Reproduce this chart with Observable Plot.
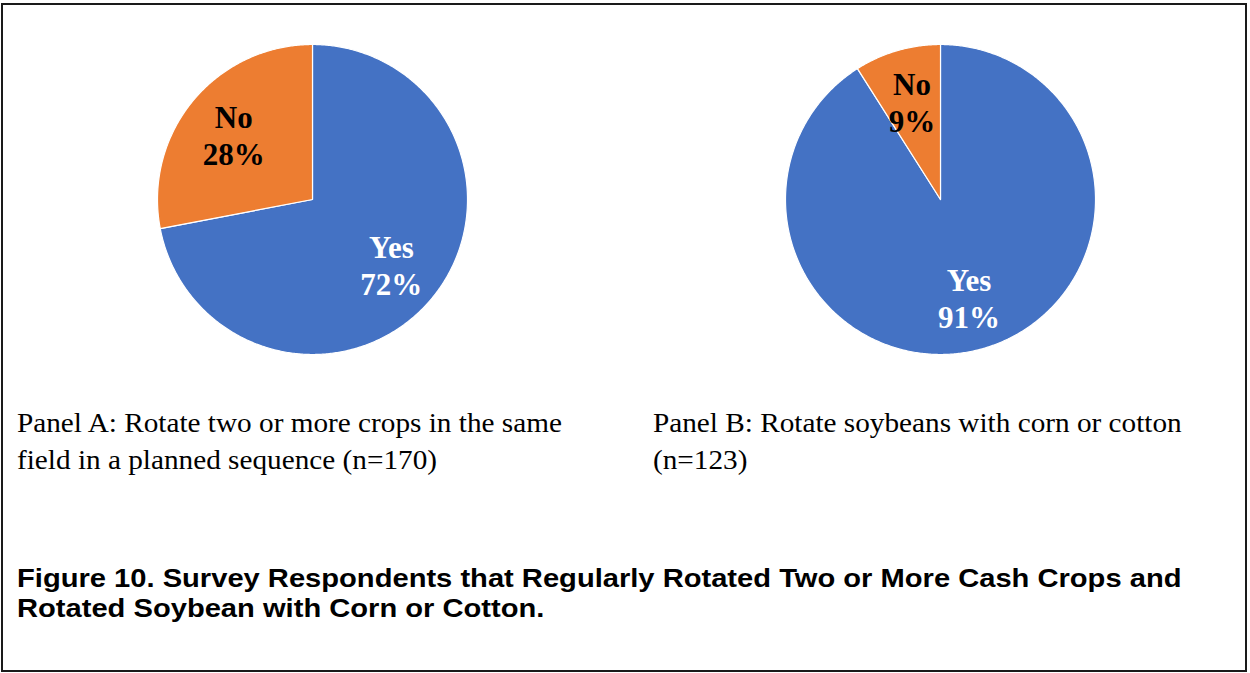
<!DOCTYPE html>
<html>
<head>
<meta charset="utf-8">
<script src="https://cdn.jsdelivr.net/npm/d3@7"></script>
<script src="https://cdn.jsdelivr.net/npm/@observablehq/plot@0.6"></script>
<style>
  html, body { margin: 0; padding: 0; background: #fff; }
  #frame { position: relative; width: 1250px; height: 673px; overflow: hidden; background: #fff; }
  #border { position: absolute; left: 1px; top: 3px; width: 1242px; height: 665px; border: 2px solid #1a1a1a; }
  .pie { position: absolute; }
  .panel { position: absolute; font-family: "Liberation Serif", "Times New Roman", serif; font-size: 27px; line-height: 37px; color: #000; white-space: nowrap; transform: scaleX(1.083); transform-origin: 0 0; }
  .fig { position: absolute; left: 17px; top: 564px; font-family: "Liberation Sans", Arial, sans-serif; font-weight: bold; font-size: 26px; line-height: 30px; color: #000; white-space: nowrap; transform: scaleX(1.12); transform-origin: 0 0; }
</style>
</head>
<body>
<div id="frame">
  <div id="border"></div>
</div>
<script>
// ---- data ----
const categories = ["Yes", "No"];
const panelAValues = [72, 28];
const panelBValues = [91, 9];
const panelACaption = ["Panel A: Rotate two or more crops in the same", "field in a planned sequence (n=170)"];
const panelBCaption = ["Panel B: Rotate soybeans with corn or cotton", "(n=123)"];
const figureCaption = ["Figure 10. Survey Respondents that Regularly Rotated Two or More Cash Crops and", "Rotated Soybean with Corn or Cotton."];

// ---- layout ----
const colors = ["#4472C4", "#ED7D31"];
const labelColors = {Yes: "#ffffff", No: "#000000"};
const size = 330;       // svg size
const radiusPx = 155;   // pie radius in px
const ext = (size / 2) / radiusPx;
const labelRadius = 0.66;

function pieChart(values) {
  const rows = categories.map((c, i) => ({label: c, value: values[i]}));
  const arcs = d3.pie().sort(null).value(d => d.value)(rows);
  const total = d3.sum(values);
  const pts = [];
  const labels = [];
  for (const a of arcs) {
    const lab = a.data.label;
    pts.push({label: lab, x: 0, y: 0});
    const n = Math.max(2, Math.ceil((a.endAngle - a.startAngle) / (Math.PI / 360)));
    for (let k = 0; k <= n; k++) {
      const t = a.startAngle + (a.endAngle - a.startAngle) * k / n;
      pts.push({label: lab, x: Math.sin(t), y: Math.cos(t)});
    }
    pts.push({label: lab, x: 0, y: 0});
    const mid = (a.startAngle + a.endAngle) / 2;
    labels.push({
      label: lab,
      x: labelRadius * Math.sin(mid),
      y: labelRadius * Math.cos(mid),
      text: `${lab}\n${Math.round(a.data.value / total * 100)}%`
    });
  }
  return Plot.plot({
    width: size,
    height: size,
    margin: 0,
    x: {domain: [-ext, ext], axis: null},
    y: {domain: [-ext, ext], axis: null},
    color: {domain: categories, range: colors},
    marks: [
      Plot.line(pts, {x: "x", y: "y", z: "label", fill: "label", stroke: "#ffffff", strokeWidth: 1.2, curve: "linear"}),
      Plot.text(labels, {
        x: "x", y: "y", text: "text",
        fill: d => labelColors[d.label],
        fontFamily: "Liberation Serif, Times New Roman, serif",
        fontWeight: "bold", fontSize: 31, lineHeight: 1.2
      })
    ],
    style: {background: "transparent", overflow: "visible"}
  });
}

const frame = document.getElementById("frame");
const centers = [[312, 198.5], [940, 198.5]];
[panelAValues, panelBValues].forEach((vals, i) => {
  const svg = pieChart(vals);
  const wrap = document.createElement("div");
  wrap.className = "pie";
  wrap.style.left = (centers[i][0] - size / 2) + "px";
  wrap.style.top = (centers[i][1] - size / 2) + "px";
  wrap.appendChild(svg);
  frame.appendChild(wrap);
});

function addText(cls, lines, left, top) {
  const d = document.createElement("div");
  d.className = cls;
  if (left != null) d.style.left = left + "px";
  if (top != null) d.style.top = top + "px";
  lines.forEach((l, i) => {
    if (i) d.appendChild(document.createElement("br"));
    d.appendChild(document.createTextNode(l));
  });
  frame.appendChild(d);
}
addText("panel", panelACaption, 17, 405);
addText("panel", panelBCaption, 653, 405);
addText("fig", figureCaption, null, 563);
</script>
</body>
</html>
